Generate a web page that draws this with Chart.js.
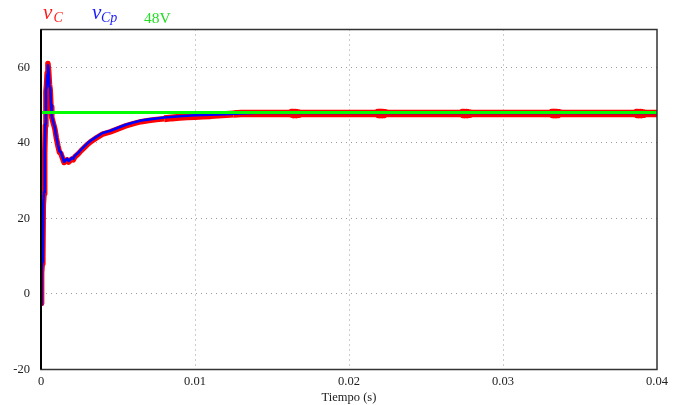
<!DOCTYPE html>
<html>
<head>
<meta charset="utf-8">
<script src="https://cdn.jsdelivr.net/npm/chart.js@4/dist/chart.umd.min.js"></script>
<style>
  html, body { margin: 0; padding: 0; background: #fff; }
  #wrap { position: relative; width: 675px; height: 405px; }
  #c { position: absolute; left: 0; top: 0; }
  .lg { position: absolute; font-family: "Liberation Serif", "Times New Roman", serif; line-height: 1; white-space: nowrap; }
</style>
</head>
<body>
<div id="wrap">
  <canvas id="c" width="675" height="405"></canvas>
  <span class="lg" style="left:43px; top:1.9px; font-size:21px; font-style:italic; color:#ff1a1a;">v</span>
  <span class="lg" style="left:53.5px; top:11.3px; font-size:14px; font-style:italic; color:#ff1a1a;">C</span>
  <span class="lg" style="left:92px; top:1.9px; font-size:21px; font-style:italic; color:#1a1aff;">v</span>
  <span class="lg" style="left:101px; top:11.3px; font-size:14px; font-style:italic; color:#1a1aff;">Cp</span>
  <span class="lg" style="left:144px; top:9.7px; font-size:15.5px; color:#22dd22;">48V</span>
</div>
<script>
// ---- data (time in seconds, voltage in volts) ----
const tCp = [0, 0.00003, 0.00005, 0.00008, 0.00012, 0.00015, 0.0002, 0.00024, 0.00028, 0.00032, 0.00036, 0.0004, 0.00045, 0.0005, 0.00055, 0.0006, 0.00065, 0.0007, 0.0008, 0.0009, 0.001, 0.0011, 0.0012, 0.0013, 0.0014, 0.0015, 0.0016, 0.0017, 0.0018, 0.0019, 0.002, 0.0021, 0.0022, 0.0024, 0.0026, 0.0028, 0.003, 0.0033, 0.0036, 0.004, 0.0045, 0.005, 0.0055, 0.006, 0.0065, 0.007, 0.0075, 0.008, 0.009, 0.01, 0.011, 0.012, 0.013, 0.014, 0.02, 0.03, 0.04];
const vCp = [-1.5, -2.8, 6, 8.5, 10, 24, 27, 38, 45, 54, 55, 58, 60.5, 58.5, 55, 54.5, 50, 47, 45.5, 44, 41.5, 39.5, 37.8, 37.5, 36.2, 35.0, 35.4, 35.8, 35.2, 35.6, 36.0, 35.8, 36.6, 37.3, 38.2, 39.0, 39.8, 40.8, 41.6, 42.6, 43.2, 44.0, 44.8, 45.4, 45.9, 46.2, 46.45, 46.7, 47.05, 47.3, 47.45, 47.6, 47.75, 47.9, 47.9, 47.9, 47.9];

const tC = [0, 0.00003, 0.00005, 0.00008, 0.00012, 0.00015, 0.0002, 0.00024, 0.00028, 0.00032, 0.00036, 0.0004, 0.00045, 0.0005, 0.00055, 0.0006, 0.00065, 0.0007, 0.0008, 0.0009, 0.001, 0.0011, 0.0012, 0.0013, 0.0014, 0.0015, 0.0016, 0.0017, 0.0018, 0.0019, 0.002, 0.0021, 0.0022, 0.0024, 0.0026, 0.0028, 0.003, 0.0033, 0.0036, 0.004, 0.0045, 0.005, 0.0055, 0.006, 0.0065, 0.007, 0.0075, 0.008, 0.0085, 0.009, 0.0095, 0.01, 0.0105, 0.011, 0.0115, 0.012, 0.0125, 0.013, 0.0145,
  0.0162, 0.01625, 0.0163, 0.01635, 0.0164, 0.01645, 0.0165, 0.01655, 0.0166, 0.01665, 0.0167, 0.01675, 0.0168, 0.019,
  0.0218, 0.02185, 0.0219, 0.02195, 0.022, 0.02205, 0.0221, 0.02215, 0.0222, 0.02225, 0.0223, 0.02235, 0.0224, 0.025,
  0.0273, 0.02735, 0.0274, 0.02745, 0.0275, 0.02755, 0.0276, 0.02765, 0.0277, 0.02775, 0.0278, 0.02785, 0.0279, 0.031,
  0.0331, 0.03315, 0.0332, 0.03325, 0.0333, 0.03335, 0.0334, 0.03345, 0.0335, 0.03355, 0.0336, 0.03365, 0.0337, 0.036,
  0.0386, 0.03865, 0.0387, 0.03875, 0.0388, 0.03885, 0.0389, 0.03895, 0.039, 0.03905, 0.0391, 0.03915, 0.0392, 0.04];
const vC = [-1.2, -2.5, 5.5, 8.0, 9.5, 23.5, 26.5, 37, 44.5, 53.5, 55.5, 58.5, 61.0, 59.0, 55.5, 54.0, 49.5, 46.7, 45.2, 43.7, 41.2, 39.2, 37.5, 37.1, 35.9, 34.8, 35.1, 35.5, 34.9, 35.3, 35.7, 35.5, 36.3, 37.0, 37.9, 38.7, 39.5, 40.5, 41.3, 42.3, 42.9, 43.7, 44.5, 45.1, 45.6, 45.9, 46.15, 46.35, 46.6, 46.75, 46.9, 47.0, 47.1, 47.2, 47.35, 47.5, 47.65, 47.75, 47.75,
  47.75, 47.95, 47.55, 48.0, 47.5, 48.0, 47.5, 48.0, 47.5, 47.95, 47.55, 47.9, 47.75, 47.75,
  47.75, 47.95, 47.55, 48.0, 47.5, 48.0, 47.5, 48.0, 47.5, 47.95, 47.55, 47.9, 47.75, 47.75,
  47.75, 47.95, 47.55, 48.0, 47.5, 48.0, 47.5, 48.0, 47.5, 47.95, 47.55, 47.9, 47.75, 47.75,
  47.75, 47.95, 47.55, 48.0, 47.5, 48.0, 47.5, 48.0, 47.5, 47.95, 47.55, 47.9, 47.75, 47.75,
  47.75, 47.95, 47.55, 48.0, 47.5, 48.0, 47.5, 48.0, 47.5, 47.95, 47.55, 47.9, 47.75, 47.75];

const refLevel = 48;
const refTimes = [0, 0.04];
const xTicks = [0, 0.01, 0.02, 0.03, 0.04];
const yTicks = [-20, 0, 20, 40, 60];

// ---- chart ----
const toXY = (ts, vs) => ts.map((t, i) => ({ x: t, y: vs[i] }));
const redAll = toXY(tC, vC);
// split the red trace into pieces so each piece can get its own stroke width
const idxA = tC.findIndex(t => t >= 0.008);
const idxB = tC.findIndex(t => t >= 0.0125);
const redPart1 = redAll.slice(0, idxA + 1);
const redPart2 = redAll.slice(idxA, idxB + 1);
const redPart3 = redAll.slice(idxB);

const framePlugin = {
  id: 'frame',
  afterDraw(chart) {
    const { ctx, chartArea: a } = chart;
    ctx.save();
    ctx.strokeStyle = '#333';
    ctx.lineWidth = 1.5;
    ctx.strokeRect(a.left, a.top, a.right - a.left, a.bottom - a.top);
    ctx.strokeStyle = '#000';
    ctx.lineWidth = 2;
    ctx.beginPath();
    ctx.moveTo(a.left, a.top);
    ctx.lineTo(a.left, a.bottom);
    ctx.stroke();
    ctx.restore();
  }
};

const serif = '"Liberation Serif", "Times New Roman", serif';
const redBase = { borderColor: '#ff0000', pointRadius: 0, borderJoinStyle: 'round', borderCapStyle: 'butt' };

new Chart(document.getElementById('c'), {
  type: 'line',
  data: {
    datasets: [
      { label: '48V', data: toXY(refTimes, [refLevel, refLevel]), borderColor: '#00ff00', borderWidth: 3, pointRadius: 0, order: 0 },
      { label: 'vCp', data: toXY(tCp, vCp), borderColor: '#0000ff', borderWidth: 2.6, pointRadius: 0, borderJoinStyle: 'round', order: 1 },
      Object.assign({ label: 'vC', data: redPart1, borderWidth: 5.5, order: 2 }, redBase),
      Object.assign({ label: 'vC ', data: redPart2, borderWidth: 7, order: 3 }, redBase),
      Object.assign({ label: 'vC  ', data: redPart3, borderWidth: 7.5, order: 4 }, redBase)
    ]
  },
  options: {
    responsive: false,
    animation: false,
    devicePixelRatio: 1,
    layout: { padding: { top: 29.5, right: 18, left: 0, bottom: 0 } },
    plugins: { legend: { display: false }, tooltip: { enabled: false } },
    scales: {
      x: {
        type: 'linear', min: 0, max: 0.04,
        afterBuildTicks: ax => { ax.ticks = xTicks.map(v => ({ value: v })); },
        afterFit: ax => { ax.height = 35.5; },
        ticks: {
          padding: 5, color: '#222', maxRotation: 0, autoSkip: false,
          font: { family: serif, size: 12.5 },
          callback: v => (v === 0 ? '0' : String(+v.toFixed(2)))
        },
        grid: {
          drawTicks: false, lineWidth: 1,
          color: c => (c.tick && (c.tick.value === 0 || c.tick.value === 0.04)) ? 'rgba(0,0,0,0)' : '#9a9a9a'
        },
        border: { display: false, dash: [1, 4] },
        title: { display: true, text: 'Tiempo (s)', color: '#222', font: { family: serif, size: 12.5 }, padding: { top: 0, bottom: 0 } }
      },
      y: {
        type: 'linear', min: -20, max: 70,
        afterBuildTicks: ax => { ax.ticks = yTicks.map(v => ({ value: v })); },
        afterFit: ax => { ax.width = 41; },
        ticks: { padding: 11, color: '#222', font: { family: serif, size: 12.5 } },
        grid: {
          drawTicks: false, lineWidth: 1,
          color: c => (c.tick && c.tick.value === -20) ? 'rgba(0,0,0,0)' : '#9a9a9a'
        },
        border: { display: false, dash: [1, 4] }
      }
    }
  },
  plugins: [framePlugin]
});
</script>
</body>
</html>
